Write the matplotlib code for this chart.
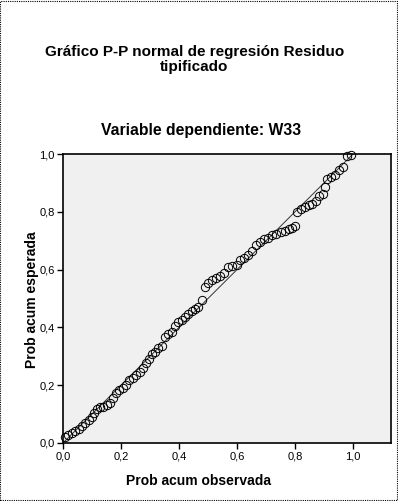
import matplotlib
matplotlib.use("Agg")
import matplotlib.pyplot as plt
from matplotlib.patches import Rectangle

# Observed cumulative probability (x) and expected cumulative probability (y)
obs_prob = [0.007, 0.018, 0.030, 0.042, 0.055, 0.066, 0.077, 0.088, 0.099, 0.107,
            0.117, 0.127, 0.138, 0.150, 0.161, 0.172, 0.183, 0.193, 0.206, 0.218,
            0.229, 0.240, 0.252, 0.264, 0.275, 0.285, 0.296, 0.307, 0.318, 0.329,
            0.341, 0.352, 0.363, 0.375, 0.387, 0.398, 0.409, 0.420, 0.432, 0.444,
            0.456, 0.467, 0.479, 0.490, 0.501, 0.513, 0.527, 0.541, 0.556, 0.570,
            0.584, 0.599, 0.611, 0.625, 0.639, 0.651, 0.664, 0.679, 0.694, 0.708,
            0.722, 0.736, 0.750, 0.764, 0.778, 0.791, 0.800, 0.806, 0.820, 0.834,
            0.848, 0.860, 0.872, 0.884, 0.897, 0.903, 0.910, 0.924, 0.938, 0.952,
            0.966, 0.980, 0.994]
exp_prob = [0.022, 0.028, 0.033, 0.040, 0.050, 0.060, 0.070, 0.080, 0.090, 0.104,
            0.118, 0.124, 0.125, 0.130, 0.138, 0.157, 0.172, 0.182, 0.190, 0.200,
            0.218, 0.226, 0.235, 0.245, 0.258, 0.278, 0.292, 0.308, 0.315, 0.328,
            0.336, 0.366, 0.376, 0.385, 0.404, 0.418, 0.427, 0.436, 0.446, 0.456,
            0.465, 0.472, 0.495, 0.541, 0.555, 0.564, 0.572, 0.579, 0.587, 0.608,
            0.613, 0.616, 0.632, 0.639, 0.650, 0.663, 0.686, 0.697, 0.706, 0.711,
            0.718, 0.724, 0.730, 0.735, 0.740, 0.745, 0.750, 0.798, 0.810, 0.816,
            0.822, 0.828, 0.838, 0.855, 0.862, 0.887, 0.914, 0.922, 0.927, 0.945,
            0.955, 0.993, 0.998]
ref_line = [0.0, 1.0]
ticks = [0.0, 0.2, 0.4, 0.6, 0.8, 1.0]
tick_labels = ["0,0", "0,2", "0,4", "0,6", "0,8", "1,0"]

plt.rcParams['font.family'] = ['Liberation Sans', 'DejaVu Sans']

fig = plt.figure(figsize=(3.98, 5.01), dpi=100)
fig.patch.set_facecolor("white")
fig.patches.append(Rectangle((0.001, 0.001), 0.997, 0.997, transform=fig.transFigure,
                             fill=False, edgecolor="black", linestyle=(0, (1, 1)),
                             linewidth=0.8, figure=fig))

ax = fig.add_axes([0.1583, 0.1158, 0.8241, 0.5768])
ax.set_facecolor("#F0F0F0")
ax.plot(ref_line, ref_line, color="#333333", linewidth=0.7, zorder=2)
ax.plot(obs_prob, exp_prob, linestyle="none", marker="o", markersize=6.0,
        markerfacecolor="none", markeredgecolor="black", markeredgewidth=0.7,
        zorder=3, clip_on=False)
ax.set_xlim(0, 1.131)
ax.set_ylim(0, 1.0)
ax.set_xticks(ticks)
ax.set_xticklabels(tick_labels)
ax.set_yticks(ticks)
ax.set_yticklabels(tick_labels)
ax.tick_params(direction="out", length=4, width=1, labelsize=8, colors="black", pad=2)
for s in ax.spines.values():
    s.set_linewidth(1.2)
    s.set_color("black")

fig.text(0.49, 1 - 52 / 501, "Gráfico P-P normal de regresión Residuo",
         ha="center", va="center", fontsize=11, fontweight="bold")
fig.text(0.487, 1 - 67 / 501, "tipificado",
         ha="center", va="center", fontsize=11, fontweight="bold")
fig.text(0.505, 1 - 131 / 501, "Variable dependiente: W33",
         ha="center", va="center", fontsize=11.3, fontweight="bold")
fig.text(0.5, 1 - 481 / 501, "Prob acum observada",
         ha="center", va="center", fontsize=10, fontweight="bold")
fig.text(32 / 398, 1 - 300 / 501, "Prob acum esperada", rotation=90,
         ha="center", va="center", fontsize=10, fontweight="bold")

fig.savefig("out.png", dpi=100)
